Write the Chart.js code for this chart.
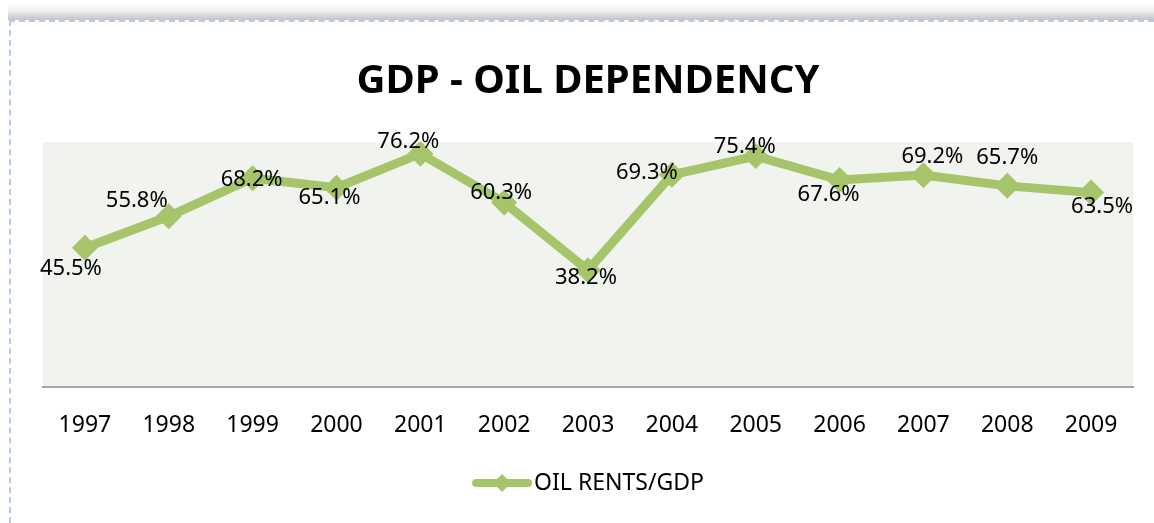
<!DOCTYPE html>
<html>
<head>
<title>GDP - OIL DEPENDENCY</title>
<script src="https://cdn.jsdelivr.net/npm/chart.js@4/dist/chart.umd.min.js"></script>
<style>
  body { margin: 0; background: #fff; }
  #shade { position: absolute; left: 8px; top: 4px; width: 1146px; height: 16px;
    background: linear-gradient(to bottom, #ffffff 0%, #ececec 45%, #c4c4c4 100%);
    border-radius: 6px 0 0 0; }
  #frame { position: absolute; left: 9px; top: 20px; width: 1145px; height: 503px;
    border-top: 2px dashed #b3c9ee; border-left: 2px dashed #b3c9ee; box-sizing: border-box; background: #fff; }
  #Chart_Div { position: absolute; left: 9px; top: 20px; }
</style>
</head>
<body>
<div id="shade"></div>
<div id="frame"></div>
<div id="Chart_Div">
<canvas id="myChart" width="1145" height="503"></canvas>
</div>

<script type="text/javascript">
const YEARS = ['1997', '1998', '1999', '2000', '2001', '2002', '2003',
               '2004', '2005', '2006', '2007', '2008', '2009'];
const OIL_RENTS = [45.5, 55.8, 68.2, 65.1, 76.2, 60.3, 38.2,
                   69.3, 75.4, 67.6, 69.2, 65.7, 63.5];
const SERIES_NAME = 'OIL RENTS/GDP';

const GREEN = '#a6c46a';
const FONT = "'Noto Sans', 'DejaVu Sans', sans-serif";

// where each value label sits relative to its marker (dx, dy)
const labelOffsets = [
  [-14, 21], [-32, -15], [-1, 2], [-7, 10], [-12, -12], [-3, -10], [-2, 8],
  [-25, -2], [-11, -9], [-11, 15], [9, -18], [0, -28], [11, 14]
];

const plotBackground = {
  id: 'plotBackground',
  beforeDraw(chart) {
    const {ctx, chartArea} = chart;
    ctx.save();
    ctx.fillStyle = '#f1f4ee';
    ctx.fillRect(chartArea.left, chartArea.top, chartArea.right - chartArea.left, chartArea.bottom - chartArea.top);
    ctx.restore();
  }
};

const valueLabels = {
  id: 'valueLabels',
  afterDatasetsDraw(chart) {
    const ctx = chart.ctx;
    const meta = chart.getDatasetMeta(0);
    ctx.save();
    ctx.font = '22px ' + FONT;
    ctx.fillStyle = '#000';
    ctx.textAlign = 'center';
    ctx.textBaseline = 'middle';
    meta.data.forEach((pt, i) => {
      const off = labelOffsets[i];
      ctx.fillText(OIL_RENTS[i].toFixed(1) + '%', pt.x + off[0], pt.y + off[1]);
    });
    ctx.restore();
  }
};

// Excel style legend: line with a diamond, then the text
const lineLegend = {
  id: 'lineLegend',
  afterDraw(chart) {
    const ctx = chart.ctx;
    const area = chart.chartArea;
    ctx.save();
    ctx.font = '23px ' + FONT;
    const tw = ctx.measureText(SERIES_NAME).width;
    const lineW = 60;
    const total = lineW + 2 + tw;
    const x0 = (area.left + area.right) / 2 - total / 2;
    const y = 463;
    ctx.strokeStyle = GREEN;
    ctx.lineWidth = 8;
    ctx.lineCap = 'round';
    ctx.beginPath();
    ctx.moveTo(x0 + 4, y);
    ctx.lineTo(x0 + lineW - 4, y);
    ctx.stroke();
    ctx.fillStyle = GREEN;
    ctx.beginPath();
    const cx = x0 + lineW / 2, r = 9;
    ctx.moveTo(cx, y - r);
    ctx.lineTo(cx + r, y);
    ctx.lineTo(cx, y + r);
    ctx.lineTo(cx - r, y);
    ctx.closePath();
    ctx.fill();
    ctx.fillStyle = '#000';
    ctx.textBaseline = 'middle';
    ctx.fillText(SERIES_NAME, x0 + lineW + 2, y);
    ctx.restore();
  }
};

const ctx = document.getElementById('myChart');
const myChart = new Chart(ctx, {
  type: 'line',
  data: {
    labels: YEARS,
    datasets: [{
      label: SERIES_NAME,
      data: OIL_RENTS,
      borderColor: GREEN,
      backgroundColor: GREEN,
      borderWidth: 9,
      tension: 0,
      pointStyle: 'rectRot',
      pointRadius: 13,
      pointHoverRadius: 13,
      pointBackgroundColor: GREEN,
      pointBorderWidth: 0,
      fill: false
    }]
  },
  options: {
    responsive: false,
    animation: false,
    layout: { padding: { left: 34, right: 21, top: 0, bottom: 60 } },
    plugins: {
      legend: { display: false },
      tooltip: { enabled: false },
      title: {
        display: true,
        text: 'GDP - OIL DEPENDENCY',
        color: '#000',
        font: { family: FONT, size: 40, weight: 'bold' },
        padding: { top: 38, bottom: 36 }
      }
    },
    scales: {
      x: {
        offset: true,
        grid: { display: false, drawTicks: false },
        border: { display: true, color: '#a6a6a6', width: 2 },
        ticks: { color: '#000', padding: 24, font: { family: FONT, size: 23 } }
      },
      y: {
        display: false,
        min: 0,
        max: 80
      }
    }
  },
  plugins: [plotBackground, valueLabels, lineLegend]
});
</script>
</body>
</html>
